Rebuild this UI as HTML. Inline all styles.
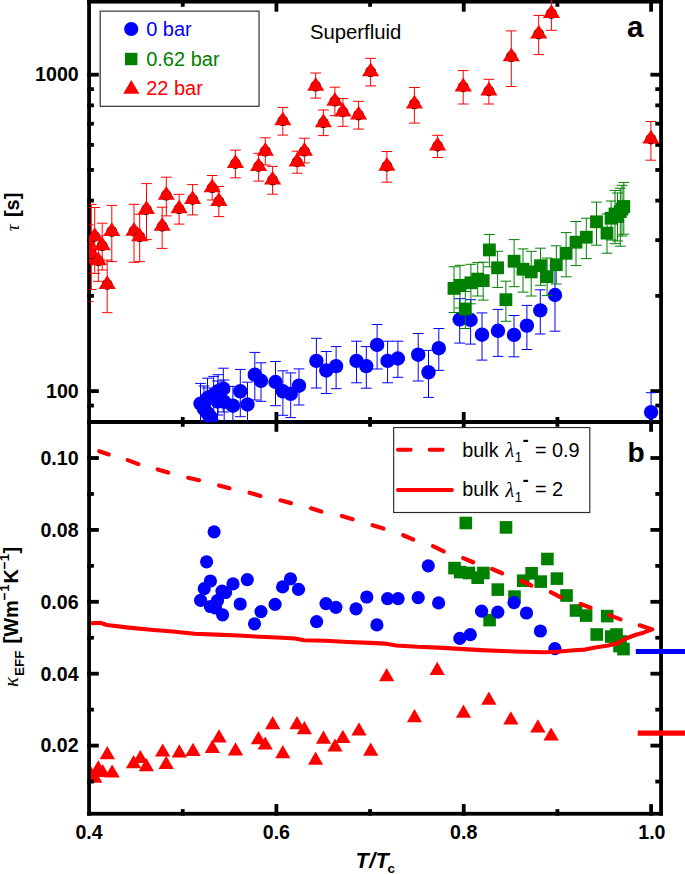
<!DOCTYPE html><html><head><meta charset="utf-8"><title>Figure</title><style>html,body{margin:0;padding:0;background:#fff}svg{display:block}</style></head><body><svg width="685" height="874" viewBox="0 0 685 874" style="display:block">
<rect width="685" height="874" fill="#fff"/>
<defs><clipPath id="ca"><rect x="89.05" y="0" width="572" height="422.3"/></clipPath><clipPath id="cb"><rect x="89.05" y="422" width="572" height="391.7"/></clipPath></defs>
<g clip-path="url(#cb)"><rect x="448.2" y="561.8" width="12.6" height="12.6" fill="#008000"/><rect x="453.8" y="565.8" width="12.6" height="12.6" fill="#008000"/><rect x="459.5" y="516.7" width="12.6" height="12.6" fill="#008000"/><rect x="462.6" y="566.7" width="12.6" height="12.6" fill="#008000"/><rect x="471.4" y="571.4" width="12.6" height="12.6" fill="#008000"/><rect x="477.1" y="566.7" width="12.6" height="12.6" fill="#008000"/><rect x="483.3" y="613.8" width="12.6" height="12.6" fill="#008000"/><rect x="491.5" y="583.3" width="12.6" height="12.6" fill="#008000"/><rect x="499.7" y="521.1" width="12.6" height="12.6" fill="#008000"/><rect x="508.2" y="590.3" width="12.6" height="12.6" fill="#008000"/><rect x="516.9" y="574.4" width="12.6" height="12.6" fill="#008000"/><rect x="525.3" y="567.0" width="12.6" height="12.6" fill="#008000"/><rect x="534.4" y="575.3" width="12.6" height="12.6" fill="#008000"/><rect x="541.1" y="552.7" width="12.6" height="12.6" fill="#008000"/><rect x="550.6" y="572.3" width="12.6" height="12.6" fill="#008000"/><rect x="560.2" y="589.2" width="12.6" height="12.6" fill="#008000"/><rect x="569.7" y="604.2" width="12.6" height="12.6" fill="#008000"/><rect x="579.8" y="609.3" width="12.6" height="12.6" fill="#008000"/><rect x="590.4" y="628.2" width="12.6" height="12.6" fill="#008000"/><rect x="600.9" y="609.8" width="12.6" height="12.6" fill="#008000"/><rect x="605.0" y="630.3" width="12.6" height="12.6" fill="#008000"/><rect x="610.2" y="628.2" width="12.6" height="12.6" fill="#008000"/><rect x="614.3" y="635.2" width="12.6" height="12.6" fill="#008000"/><rect x="613.2" y="639.8" width="12.6" height="12.6" fill="#008000"/><rect x="617.2" y="642.8" width="12.6" height="12.6" fill="#008000"/><circle cx="200.6" cy="600.3" r="6.6" fill="#0000ff"/><circle cx="204.2" cy="588.7" r="6.6" fill="#0000ff"/><circle cx="206.6" cy="561.8" r="6.6" fill="#0000ff"/><circle cx="210.4" cy="581.0" r="6.6" fill="#0000ff"/><circle cx="214.1" cy="531.8" r="6.6" fill="#0000ff"/><circle cx="210.4" cy="606.5" r="6.6" fill="#0000ff"/><circle cx="215.5" cy="608.0" r="6.6" fill="#0000ff"/><circle cx="217.5" cy="600.5" r="6.6" fill="#0000ff"/><circle cx="222.6" cy="614.8" r="6.6" fill="#0000ff"/><circle cx="222.0" cy="591.2" r="6.6" fill="#0000ff"/><circle cx="225.5" cy="592.5" r="6.6" fill="#0000ff"/><circle cx="233.0" cy="583.9" r="6.6" fill="#0000ff"/><circle cx="240.2" cy="604.0" r="6.6" fill="#0000ff"/><circle cx="247.3" cy="579.6" r="6.6" fill="#0000ff"/><circle cx="254.5" cy="623.8" r="6.6" fill="#0000ff"/><circle cx="261.0" cy="611.6" r="6.6" fill="#0000ff"/><circle cx="275.1" cy="604.3" r="6.6" fill="#0000ff"/><circle cx="282.6" cy="586.9" r="6.6" fill="#0000ff"/><circle cx="290.5" cy="578.8" r="6.6" fill="#0000ff"/><circle cx="298.5" cy="589.4" r="6.6" fill="#0000ff"/><circle cx="316.6" cy="621.7" r="6.6" fill="#0000ff"/><circle cx="326.0" cy="603.6" r="6.6" fill="#0000ff"/><circle cx="335.9" cy="607.3" r="6.6" fill="#0000ff"/><circle cx="356.0" cy="608.8" r="6.6" fill="#0000ff"/><circle cx="366.8" cy="597.0" r="6.6" fill="#0000ff"/><circle cx="376.9" cy="624.9" r="6.6" fill="#0000ff"/><circle cx="387.6" cy="598.7" r="6.6" fill="#0000ff"/><circle cx="398.1" cy="598.7" r="6.6" fill="#0000ff"/><circle cx="418.2" cy="597.7" r="6.6" fill="#0000ff"/><circle cx="428.3" cy="565.8" r="6.6" fill="#0000ff"/><circle cx="438.6" cy="602.9" r="6.6" fill="#0000ff"/><circle cx="459.8" cy="638.4" r="6.6" fill="#0000ff"/><circle cx="470.3" cy="634.7" r="6.6" fill="#0000ff"/><circle cx="481.6" cy="611.2" r="6.6" fill="#0000ff"/><circle cx="497.8" cy="612.2" r="6.6" fill="#0000ff"/><circle cx="514.0" cy="602.7" r="6.6" fill="#0000ff"/><circle cx="526.5" cy="613.0" r="6.6" fill="#0000ff"/><circle cx="540.4" cy="631.0" r="6.6" fill="#0000ff"/><circle cx="554.9" cy="648.6" r="6.6" fill="#0000ff"/><path d="M91.0 766.2L98.7 779.4H83.3Z" fill="#ff0000"/><path d="M94.7 769.5L102.4 782.7H87.0Z" fill="#ff0000"/><path d="M98.3 760.3L106.0 773.5H90.6Z" fill="#ff0000"/><path d="M102.6 763.9L110.2 777.1H94.9Z" fill="#ff0000"/><path d="M107.3 746.0L115.0 759.2H99.6Z" fill="#ff0000"/><path d="M112.1 764.4L119.8 777.6H104.4Z" fill="#ff0000"/><path d="M133.6 755.0L141.2 768.2H125.9Z" fill="#ff0000"/><path d="M140.3 749.9L148.0 763.1H132.7Z" fill="#ff0000"/><path d="M146.3 758.0L154.0 771.2H138.7Z" fill="#ff0000"/><path d="M162.7 743.4L170.3 756.6H155.0Z" fill="#ff0000"/><path d="M166.2 755.8L173.8 769.0H158.5Z" fill="#ff0000"/><path d="M179.3 744.2L187.0 757.4H171.7Z" fill="#ff0000"/><path d="M193.0 742.7L200.7 755.9H185.3Z" fill="#ff0000"/><path d="M212.3 739.7L220.0 752.9H204.7Z" fill="#ff0000"/><path d="M219.0 729.3L226.7 742.5H211.3Z" fill="#ff0000"/><path d="M235.5 742.2L243.2 755.4H227.8Z" fill="#ff0000"/><path d="M258.5 731.0L266.1 744.2H250.8Z" fill="#ff0000"/><path d="M265.2 736.4L272.8 749.6H257.6Z" fill="#ff0000"/><path d="M272.7 716.1L280.3 729.3H265.1Z" fill="#ff0000"/><path d="M282.8 745.1L290.4 758.3H275.2Z" fill="#ff0000"/><path d="M297.0 716.1L304.6 729.3H289.4Z" fill="#ff0000"/><path d="M304.4 721.0L312.0 734.2H296.8Z" fill="#ff0000"/><path d="M315.6 751.6L323.2 764.8H308.0Z" fill="#ff0000"/><path d="M323.5 730.5L331.1 743.7H315.9Z" fill="#ff0000"/><path d="M335.0 738.4L342.6 751.6H327.4Z" fill="#ff0000"/><path d="M342.9 729.7L350.5 742.9H335.2Z" fill="#ff0000"/><path d="M359.0 722.3L366.6 735.5H351.4Z" fill="#ff0000"/><path d="M370.7 742.6L378.3 755.8H363.1Z" fill="#ff0000"/><path d="M386.7 668.1L394.3 681.3H379.1Z" fill="#ff0000"/><path d="M414.5 709.0L422.1 722.2H406.9Z" fill="#ff0000"/><path d="M437.2 661.7L444.8 674.9H429.6Z" fill="#ff0000"/><path d="M463.5 704.6L471.1 717.8H455.9Z" fill="#ff0000"/><path d="M488.9 691.5L496.5 704.7H481.2Z" fill="#ff0000"/><path d="M510.8 711.3L518.5 724.5H503.2Z" fill="#ff0000"/><path d="M537.9 719.2L545.5 732.4H530.2Z" fill="#ff0000"/><path d="M551.1 727.4L558.8 740.6H543.5Z" fill="#ff0000"/><line x1="99.3" y1="451.2" x2="108.8" y2="454.4" stroke="#ff0000" stroke-width="4.2" stroke-linecap="round"/><line x1="127.7" y1="460.1" x2="138.4" y2="464.1" stroke="#ff0000" stroke-width="4.2" stroke-linecap="round"/><line x1="157.7" y1="469.4" x2="168.1" y2="472.6" stroke="#ff0000" stroke-width="4.2" stroke-linecap="round"/><line x1="188.2" y1="477.8" x2="199.0" y2="480.2" stroke="#ff0000" stroke-width="4.2" stroke-linecap="round"/><line x1="219.1" y1="485.5" x2="229.5" y2="488.3" stroke="#ff0000" stroke-width="4.2" stroke-linecap="round"/><line x1="249.6" y1="492.7" x2="260.4" y2="495.9" stroke="#ff0000" stroke-width="4.2" stroke-linecap="round"/><line x1="280.5" y1="500.3" x2="290.9" y2="503.1" stroke="#ff0000" stroke-width="4.2" stroke-linecap="round"/><line x1="311.0" y1="508.3" x2="321.3" y2="511.6" stroke="#ff0000" stroke-width="4.2" stroke-linecap="round"/><line x1="341.9" y1="515.9" x2="352.7" y2="519.2" stroke="#ff0000" stroke-width="4.2" stroke-linecap="round"/><line x1="372.6" y1="525.2" x2="383.4" y2="528.6" stroke="#ff0000" stroke-width="4.2" stroke-linecap="round"/><line x1="403.2" y1="535.3" x2="413.2" y2="539.5" stroke="#ff0000" stroke-width="4.2" stroke-linecap="round"/><line x1="433.0" y1="546.2" x2="443.8" y2="551.4" stroke="#ff0000" stroke-width="4.2" stroke-linecap="round"/><line x1="463.2" y1="558.1" x2="473.2" y2="562.3" stroke="#ff0000" stroke-width="4.2" stroke-linecap="round"/><line x1="492.1" y1="569.0" x2="502.1" y2="573.3" stroke="#ff0000" stroke-width="4.2" stroke-linecap="round"/><line x1="521.5" y1="580.8" x2="531.4" y2="585.5" stroke="#ff0000" stroke-width="4.2" stroke-linecap="round"/><line x1="550.8" y1="592.2" x2="560.8" y2="597.4" stroke="#ff0000" stroke-width="4.2" stroke-linecap="round"/><line x1="580.6" y1="604.1" x2="590.6" y2="607.7" stroke="#ff0000" stroke-width="4.2" stroke-linecap="round"/><line x1="609.4" y1="615.1" x2="620.5" y2="619.4" stroke="#ff0000" stroke-width="4.2" stroke-linecap="round"/><line x1="639.7" y1="625.3" x2="650.6" y2="628.9" stroke="#ff0000" stroke-width="4.2" stroke-linecap="round"/><polyline points="91.6,623.2 100.3,622.8 106.9,625.0 128.8,627.6 150.7,629.8 172.6,631.5 194.5,633.7 216.4,634.6 238.3,635.5 260.2,636.8 282.1,637.7 295.2,638.5 304.0,640.3 325.9,640.7 347.8,642.0 369.7,642.9 385.0,643.6 396.2,645.5 417.3,646.8 438.5,647.6 459.7,648.9 480.8,650.1 502.0,651.0 523.2,651.8 544.3,652.3 557.0,651.8 574.0,650.3 585.0,649.6 596.7,647.3 608.4,645.5 617.7,643.2 625.9,638.5 635.2,635.0 643.4,632.7 648.1,630.9 652.2,629.4" fill="none" stroke="#ff0000" stroke-width="4.1" stroke-linecap="round" stroke-linejoin="round"/></g>
<g id="axes-b"><rect x="87.15" y="420.05" width="3.80" height="395.60" fill="#000"/><rect x="659.15" y="420.05" width="3.80" height="395.60" fill="#000"/><rect x="87.15" y="420.05" width="575.80" height="3.80" fill="#000"/><rect x="87.15" y="811.85" width="575.80" height="3.80" fill="#000"/><line x1="182.72" y1="420.05" x2="182.72" y2="426.80" stroke="#000" stroke-width="3.8" stroke-linecap="butt"/><line x1="182.72" y1="809.10" x2="182.72" y2="815.65" stroke="#000" stroke-width="3.8" stroke-linecap="butt"/><line x1="276.39" y1="420.05" x2="276.39" y2="431.80" stroke="#000" stroke-width="3.8" stroke-linecap="butt"/><line x1="276.39" y1="804.10" x2="276.39" y2="815.65" stroke="#000" stroke-width="3.8" stroke-linecap="butt"/><line x1="370.06" y1="420.05" x2="370.06" y2="426.80" stroke="#000" stroke-width="3.8" stroke-linecap="butt"/><line x1="370.06" y1="809.10" x2="370.06" y2="815.65" stroke="#000" stroke-width="3.8" stroke-linecap="butt"/><line x1="463.73" y1="420.05" x2="463.73" y2="431.80" stroke="#000" stroke-width="3.8" stroke-linecap="butt"/><line x1="463.73" y1="804.10" x2="463.73" y2="815.65" stroke="#000" stroke-width="3.8" stroke-linecap="butt"/><line x1="557.40" y1="420.05" x2="557.40" y2="426.80" stroke="#000" stroke-width="3.8" stroke-linecap="butt"/><line x1="557.40" y1="809.10" x2="557.40" y2="815.65" stroke="#000" stroke-width="3.8" stroke-linecap="butt"/><line x1="651.07" y1="420.05" x2="651.07" y2="431.80" stroke="#000" stroke-width="3.8" stroke-linecap="butt"/><line x1="651.07" y1="804.10" x2="651.07" y2="815.65" stroke="#000" stroke-width="3.8" stroke-linecap="butt"/><line x1="87.15" y1="781.55" x2="93.90" y2="781.55" stroke="#000" stroke-width="3.8" stroke-linecap="butt"/><line x1="655.30" y1="781.55" x2="662.95" y2="781.55" stroke="#000" stroke-width="3.8" stroke-linecap="butt"/><line x1="87.15" y1="745.60" x2="98.80" y2="745.60" stroke="#000" stroke-width="3.8" stroke-linecap="butt"/><line x1="650.40" y1="745.60" x2="662.95" y2="745.60" stroke="#000" stroke-width="3.8" stroke-linecap="butt"/><line x1="87.15" y1="709.65" x2="93.90" y2="709.65" stroke="#000" stroke-width="3.8" stroke-linecap="butt"/><line x1="655.30" y1="709.65" x2="662.95" y2="709.65" stroke="#000" stroke-width="3.8" stroke-linecap="butt"/><line x1="87.15" y1="673.70" x2="98.80" y2="673.70" stroke="#000" stroke-width="3.8" stroke-linecap="butt"/><line x1="650.40" y1="673.70" x2="662.95" y2="673.70" stroke="#000" stroke-width="3.8" stroke-linecap="butt"/><line x1="87.15" y1="637.75" x2="93.90" y2="637.75" stroke="#000" stroke-width="3.8" stroke-linecap="butt"/><line x1="655.30" y1="637.75" x2="662.95" y2="637.75" stroke="#000" stroke-width="3.8" stroke-linecap="butt"/><line x1="87.15" y1="601.80" x2="98.80" y2="601.80" stroke="#000" stroke-width="3.8" stroke-linecap="butt"/><line x1="650.40" y1="601.80" x2="662.95" y2="601.80" stroke="#000" stroke-width="3.8" stroke-linecap="butt"/><line x1="87.15" y1="565.85" x2="93.90" y2="565.85" stroke="#000" stroke-width="3.8" stroke-linecap="butt"/><line x1="655.30" y1="565.85" x2="662.95" y2="565.85" stroke="#000" stroke-width="3.8" stroke-linecap="butt"/><line x1="87.15" y1="529.90" x2="98.80" y2="529.90" stroke="#000" stroke-width="3.8" stroke-linecap="butt"/><line x1="650.40" y1="529.90" x2="662.95" y2="529.90" stroke="#000" stroke-width="3.8" stroke-linecap="butt"/><line x1="87.15" y1="493.95" x2="93.90" y2="493.95" stroke="#000" stroke-width="3.8" stroke-linecap="butt"/><line x1="655.30" y1="493.95" x2="662.95" y2="493.95" stroke="#000" stroke-width="3.8" stroke-linecap="butt"/><line x1="87.15" y1="458.00" x2="98.80" y2="458.00" stroke="#000" stroke-width="3.8" stroke-linecap="butt"/><line x1="650.40" y1="458.00" x2="662.95" y2="458.00" stroke="#000" stroke-width="3.8" stroke-linecap="butt"/></g>
<line x1="635.80" y1="651.50" x2="685.00" y2="651.50" stroke="#0000ff" stroke-width="5" stroke-linecap="butt"/>
<line x1="637.70" y1="733.20" x2="685.00" y2="733.20" stroke="#ff0000" stroke-width="5.2" stroke-linecap="butt"/>
<g id="axes-a"><rect x="87.15" y="0.00" width="3.80" height="423.85" fill="#000"/><rect x="659.15" y="0.00" width="3.80" height="423.85" fill="#000"/><rect x="87.15" y="0.00" width="575.80" height="3.55" fill="#000"/><rect x="87.15" y="420.05" width="575.80" height="3.80" fill="#000"/><line x1="182.72" y1="0.00" x2="182.72" y2="6.80" stroke="#000" stroke-width="3.8" stroke-linecap="butt"/><line x1="182.72" y1="417.00" x2="182.72" y2="423.85" stroke="#000" stroke-width="3.8" stroke-linecap="butt"/><line x1="276.39" y1="0.00" x2="276.39" y2="11.70" stroke="#000" stroke-width="3.8" stroke-linecap="butt"/><line x1="276.39" y1="412.00" x2="276.39" y2="423.85" stroke="#000" stroke-width="3.8" stroke-linecap="butt"/><line x1="370.06" y1="0.00" x2="370.06" y2="6.80" stroke="#000" stroke-width="3.8" stroke-linecap="butt"/><line x1="370.06" y1="417.00" x2="370.06" y2="423.85" stroke="#000" stroke-width="3.8" stroke-linecap="butt"/><line x1="463.73" y1="0.00" x2="463.73" y2="11.70" stroke="#000" stroke-width="3.8" stroke-linecap="butt"/><line x1="463.73" y1="412.00" x2="463.73" y2="423.85" stroke="#000" stroke-width="3.8" stroke-linecap="butt"/><line x1="557.40" y1="0.00" x2="557.40" y2="6.80" stroke="#000" stroke-width="3.8" stroke-linecap="butt"/><line x1="557.40" y1="417.00" x2="557.40" y2="423.85" stroke="#000" stroke-width="3.8" stroke-linecap="butt"/><line x1="651.07" y1="0.00" x2="651.07" y2="11.70" stroke="#000" stroke-width="3.8" stroke-linecap="butt"/><line x1="651.07" y1="412.00" x2="651.07" y2="423.85" stroke="#000" stroke-width="3.8" stroke-linecap="butt"/><line x1="87.15" y1="405.58" x2="93.90" y2="405.58" stroke="#000" stroke-width="3.8" stroke-linecap="butt"/><line x1="655.30" y1="405.58" x2="662.95" y2="405.58" stroke="#000" stroke-width="3.8" stroke-linecap="butt"/><line x1="87.15" y1="391.10" x2="98.80" y2="391.10" stroke="#000" stroke-width="3.8" stroke-linecap="butt"/><line x1="650.40" y1="391.10" x2="662.95" y2="391.10" stroke="#000" stroke-width="3.8" stroke-linecap="butt"/><line x1="87.15" y1="295.85" x2="93.90" y2="295.85" stroke="#000" stroke-width="3.8" stroke-linecap="butt"/><line x1="655.30" y1="295.85" x2="662.95" y2="295.85" stroke="#000" stroke-width="3.8" stroke-linecap="butt"/><line x1="87.15" y1="240.14" x2="93.90" y2="240.14" stroke="#000" stroke-width="3.8" stroke-linecap="butt"/><line x1="655.30" y1="240.14" x2="662.95" y2="240.14" stroke="#000" stroke-width="3.8" stroke-linecap="butt"/><line x1="87.15" y1="200.61" x2="93.90" y2="200.61" stroke="#000" stroke-width="3.8" stroke-linecap="butt"/><line x1="655.30" y1="200.61" x2="662.95" y2="200.61" stroke="#000" stroke-width="3.8" stroke-linecap="butt"/><line x1="87.15" y1="169.95" x2="93.90" y2="169.95" stroke="#000" stroke-width="3.8" stroke-linecap="butt"/><line x1="655.30" y1="169.95" x2="662.95" y2="169.95" stroke="#000" stroke-width="3.8" stroke-linecap="butt"/><line x1="87.15" y1="144.89" x2="93.90" y2="144.89" stroke="#000" stroke-width="3.8" stroke-linecap="butt"/><line x1="655.30" y1="144.89" x2="662.95" y2="144.89" stroke="#000" stroke-width="3.8" stroke-linecap="butt"/><line x1="87.15" y1="123.71" x2="93.90" y2="123.71" stroke="#000" stroke-width="3.8" stroke-linecap="butt"/><line x1="655.30" y1="123.71" x2="662.95" y2="123.71" stroke="#000" stroke-width="3.8" stroke-linecap="butt"/><line x1="87.15" y1="105.36" x2="93.90" y2="105.36" stroke="#000" stroke-width="3.8" stroke-linecap="butt"/><line x1="655.30" y1="105.36" x2="662.95" y2="105.36" stroke="#000" stroke-width="3.8" stroke-linecap="butt"/><line x1="87.15" y1="89.18" x2="93.90" y2="89.18" stroke="#000" stroke-width="3.8" stroke-linecap="butt"/><line x1="655.30" y1="89.18" x2="662.95" y2="89.18" stroke="#000" stroke-width="3.8" stroke-linecap="butt"/><line x1="87.15" y1="74.70" x2="98.80" y2="74.70" stroke="#000" stroke-width="3.8" stroke-linecap="butt"/><line x1="650.40" y1="74.70" x2="662.95" y2="74.70" stroke="#000" stroke-width="3.8" stroke-linecap="butt"/></g>
<g clip-path="url(#ca)"><path d="M200.5 383.4V430.0M195.2 383.4H205.8M195.2 430.0H205.8" stroke="#0000ff" stroke-width="1.0" fill="none"/><path d="M204.0 386.0V430.0M198.7 386.0H209.3M198.7 430.0H209.3" stroke="#0000ff" stroke-width="1.0" fill="none"/><path d="M207.5 388.0V430.0M202.2 388.0H212.8M202.2 430.0H212.8" stroke="#0000ff" stroke-width="1.0" fill="none"/><path d="M210.4 391.0V430.0M205.1 391.0H215.8M205.1 430.0H215.8" stroke="#0000ff" stroke-width="1.0" fill="none"/><path d="M217.6 381.0V424.0M212.2 381.0H222.9M212.2 424.0H222.9" stroke="#0000ff" stroke-width="1.0" fill="none"/><path d="M207.5 378.2V425.0M202.2 378.2H212.8M202.2 425.0H212.8" stroke="#0000ff" stroke-width="1.0" fill="none"/><path d="M213.7 376.4V420.0M208.3 376.4H219.0M208.3 420.0H219.0" stroke="#0000ff" stroke-width="1.0" fill="none"/><path d="M218.0 374.7V415.0M212.7 374.7H223.3M212.7 415.0H223.3" stroke="#0000ff" stroke-width="1.0" fill="none"/><path d="M223.3 368.2V412.0M218.0 368.2H228.7M218.0 412.0H228.7" stroke="#0000ff" stroke-width="1.0" fill="none"/><path d="M224.2 380.0V425.0M218.8 380.0H229.5M218.8 425.0H229.5" stroke="#0000ff" stroke-width="1.0" fill="none"/><path d="M232.9 386.4V428.0M227.6 386.4H238.2M227.6 428.0H238.2" stroke="#0000ff" stroke-width="1.0" fill="none"/><path d="M240.3 369.4V416.7M235.0 369.4H245.7M235.0 416.7H245.7" stroke="#0000ff" stroke-width="1.0" fill="none"/><path d="M247.5 382.2V430.0M242.2 382.2H252.8M242.2 430.0H252.8" stroke="#0000ff" stroke-width="1.0" fill="none"/><path d="M254.8 352.4V400.0M249.5 352.4H260.2M249.5 400.0H260.2" stroke="#0000ff" stroke-width="1.0" fill="none"/><path d="M261.0 362.8V401.3M255.7 362.8H266.4M255.7 401.3H266.4" stroke="#0000ff" stroke-width="1.0" fill="none"/><path d="M275.5 361.5V405.7M270.1 361.5H280.9M270.1 405.7H280.9" stroke="#0000ff" stroke-width="1.0" fill="none"/><path d="M282.9 370.8V415.3M277.5 370.8H288.2M277.5 415.3H288.2" stroke="#0000ff" stroke-width="1.0" fill="none"/><path d="M290.7 372.9V417.6M285.3 372.9H296.1M285.3 417.6H296.1" stroke="#0000ff" stroke-width="1.0" fill="none"/><path d="M299.0 368.9V405.0M293.6 368.9H304.4M293.6 405.0H304.4" stroke="#0000ff" stroke-width="1.0" fill="none"/><path d="M316.4 338.3V388.0M311.0 338.3H321.8M311.0 388.0H321.8" stroke="#0000ff" stroke-width="1.0" fill="none"/><path d="M326.3 351.5V393.5M320.9 351.5H331.7M320.9 393.5H331.7" stroke="#0000ff" stroke-width="1.0" fill="none"/><path d="M336.1 346.6V388.7M330.8 346.6H341.5M330.8 388.7H341.5" stroke="#0000ff" stroke-width="1.0" fill="none"/><path d="M356.5 341.2V382.8M351.1 341.2H361.9M351.1 382.8H361.9" stroke="#0000ff" stroke-width="1.0" fill="none"/><path d="M366.3 346.6V388.2M360.9 346.6H371.7M360.9 388.2H371.7" stroke="#0000ff" stroke-width="1.0" fill="none"/><path d="M377.1 324.5V369.0M371.8 324.5H382.5M371.8 369.0H382.5" stroke="#0000ff" stroke-width="1.0" fill="none"/><path d="M387.6 341.2V382.8M382.2 341.2H393.0M382.2 382.8H393.0" stroke="#0000ff" stroke-width="1.0" fill="none"/><path d="M397.9 341.2V377.3M392.5 341.2H403.2M392.5 377.3H403.2" stroke="#0000ff" stroke-width="1.0" fill="none"/><path d="M418.2 333.5V381.0M412.8 333.5H423.6M412.8 381.0H423.6" stroke="#0000ff" stroke-width="1.0" fill="none"/><path d="M428.5 350.4V397.4M423.1 350.4H433.9M423.1 397.4H433.9" stroke="#0000ff" stroke-width="1.0" fill="none"/><path d="M438.8 328.5V370.4M433.4 328.5H444.2M433.4 370.4H444.2" stroke="#0000ff" stroke-width="1.0" fill="none"/><path d="M459.7 298.7V343.1M454.3 298.7H465.1M454.3 343.1H465.1" stroke="#0000ff" stroke-width="1.0" fill="none"/><path d="M470.6 299.7V344.1M465.2 299.7H476.0M465.2 344.1H476.0" stroke="#0000ff" stroke-width="1.0" fill="none"/><path d="M482.0 312.9V360.1M476.6 312.9H487.4M476.6 360.1H487.4" stroke="#0000ff" stroke-width="1.0" fill="none"/><path d="M498.0 309.4V356.4M492.6 309.4H503.4M492.6 356.4H503.4" stroke="#0000ff" stroke-width="1.0" fill="none"/><path d="M514.0 315.5V356.8M508.6 315.5H519.4M508.6 356.8H519.4" stroke="#0000ff" stroke-width="1.0" fill="none"/><path d="M526.9 305.4V349.5M521.5 305.4H532.2M521.5 349.5H532.2" stroke="#0000ff" stroke-width="1.0" fill="none"/><path d="M540.3 289.8V334.0M534.9 289.8H545.6M534.9 334.0H545.6" stroke="#0000ff" stroke-width="1.0" fill="none"/><path d="M555.0 265.7V331.2M549.6 265.7H560.4M549.6 331.2H560.4" stroke="#0000ff" stroke-width="1.0" fill="none"/><path d="M651.1 392.7V430.0M645.8 392.7H656.5M645.8 430.0H656.5" stroke="#0000ff" stroke-width="1.0" fill="none"/><circle cx="200.5" cy="403.6" r="7.2" fill="#0000ff"/><circle cx="204.0" cy="408.8" r="7.2" fill="#0000ff"/><circle cx="207.5" cy="413.2" r="7.2" fill="#0000ff"/><circle cx="210.4" cy="416.8" r="7.2" fill="#0000ff"/><circle cx="217.6" cy="401.5" r="7.2" fill="#0000ff"/><circle cx="207.5" cy="398.3" r="7.2" fill="#0000ff"/><circle cx="213.7" cy="394.8" r="7.2" fill="#0000ff"/><circle cx="218.0" cy="391.3" r="7.2" fill="#0000ff"/><circle cx="223.3" cy="388.7" r="7.2" fill="#0000ff"/><circle cx="224.2" cy="401.8" r="7.2" fill="#0000ff"/><circle cx="232.9" cy="405.7" r="7.2" fill="#0000ff"/><circle cx="240.3" cy="391.3" r="7.2" fill="#0000ff"/><circle cx="247.5" cy="404.5" r="7.2" fill="#0000ff"/><circle cx="254.8" cy="374.7" r="7.2" fill="#0000ff"/><circle cx="261.0" cy="380.8" r="7.2" fill="#0000ff"/><circle cx="275.5" cy="382.0" r="7.2" fill="#0000ff"/><circle cx="282.9" cy="391.3" r="7.2" fill="#0000ff"/><circle cx="290.7" cy="393.9" r="7.2" fill="#0000ff"/><circle cx="299.0" cy="385.7" r="7.2" fill="#0000ff"/><circle cx="316.4" cy="360.9" r="7.2" fill="#0000ff"/><circle cx="326.3" cy="370.5" r="7.2" fill="#0000ff"/><circle cx="336.1" cy="366.1" r="7.2" fill="#0000ff"/><circle cx="356.5" cy="360.9" r="7.2" fill="#0000ff"/><circle cx="366.3" cy="366.1" r="7.2" fill="#0000ff"/><circle cx="377.1" cy="344.9" r="7.2" fill="#0000ff"/><circle cx="387.6" cy="360.9" r="7.2" fill="#0000ff"/><circle cx="397.9" cy="358.5" r="7.2" fill="#0000ff"/><circle cx="418.2" cy="354.7" r="7.2" fill="#0000ff"/><circle cx="428.5" cy="372.3" r="7.2" fill="#0000ff"/><circle cx="438.8" cy="348.2" r="7.2" fill="#0000ff"/><circle cx="459.7" cy="319.5" r="7.2" fill="#0000ff"/><circle cx="470.6" cy="320.0" r="7.2" fill="#0000ff"/><circle cx="482.0" cy="334.7" r="7.2" fill="#0000ff"/><circle cx="498.0" cy="330.8" r="7.2" fill="#0000ff"/><circle cx="514.0" cy="334.9" r="7.2" fill="#0000ff"/><circle cx="526.9" cy="325.6" r="7.2" fill="#0000ff"/><circle cx="540.3" cy="310.4" r="7.2" fill="#0000ff"/><circle cx="555.0" cy="295.0" r="7.2" fill="#0000ff"/><circle cx="651.1" cy="412.2" r="7.2" fill="#0000ff"/><path d="M454.0 266.8V312.5M448.6 266.8H459.4M448.6 312.5H459.4" stroke="#008000" stroke-width="1.0" fill="none"/><path d="M460.0 265.3V308.0M454.6 265.3H465.4M454.6 308.0H465.4" stroke="#008000" stroke-width="1.0" fill="none"/><path d="M465.3 291.5V328.5M459.9 291.5H470.7M459.9 328.5H470.7" stroke="#008000" stroke-width="1.0" fill="none"/><path d="M470.9 264.3V303.8M465.5 264.3H476.2M465.5 303.8H476.2" stroke="#008000" stroke-width="1.0" fill="none"/><path d="M477.7 262.6V296.0M472.3 262.6H483.1M472.3 296.0H483.1" stroke="#008000" stroke-width="1.0" fill="none"/><path d="M483.2 262.2V300.1M477.8 262.2H488.6M477.8 300.1H488.6" stroke="#008000" stroke-width="1.0" fill="none"/><path d="M489.4 234.4V266.8M484.0 234.4H494.8M484.0 266.8H494.8" stroke="#008000" stroke-width="1.0" fill="none"/><path d="M497.6 251.3V287.4M492.2 251.3H503.0M492.2 287.4H503.0" stroke="#008000" stroke-width="1.0" fill="none"/><path d="M505.9 281.2V321.3M500.5 281.2H511.2M500.5 321.3H511.2" stroke="#008000" stroke-width="1.0" fill="none"/><path d="M514.1 239.6V286.7M508.8 239.6H519.5M508.8 286.7H519.5" stroke="#008000" stroke-width="1.0" fill="none"/><path d="M523.0 248.9V292.1M517.6 248.9H528.4M517.6 292.1H528.4" stroke="#008000" stroke-width="1.0" fill="none"/><path d="M531.2 251.3V296.0M525.9 251.3H536.6M525.9 296.0H536.6" stroke="#008000" stroke-width="1.0" fill="none"/><path d="M540.5 248.2V285.3M535.1 248.2H545.9M535.1 285.3H545.9" stroke="#008000" stroke-width="1.0" fill="none"/><path d="M547.1 258.0V295.6M541.8 258.0H552.5M541.8 295.6H552.5" stroke="#008000" stroke-width="1.0" fill="none"/><path d="M556.3 245.8V284.0M550.9 245.8H561.6M550.9 284.0H561.6" stroke="#008000" stroke-width="1.0" fill="none"/><path d="M566.1 232.6V276.8M560.8 232.6H571.5M560.8 276.8H571.5" stroke="#008000" stroke-width="1.0" fill="none"/><path d="M576.0 221.5V265.6M570.6 221.5H581.4M570.6 265.6H581.4" stroke="#008000" stroke-width="1.0" fill="none"/><path d="M586.3 218.2V258.6M580.9 218.2H591.6M580.9 258.6H591.6" stroke="#008000" stroke-width="1.0" fill="none"/><path d="M596.5 202.1V245.2M591.1 202.1H601.9M591.1 245.2H601.9" stroke="#008000" stroke-width="1.0" fill="none"/><path d="M607.0 214.0V253.2M601.6 214.0H612.4M601.6 253.2H612.4" stroke="#008000" stroke-width="1.0" fill="none"/><path d="M611.1 201.0V240.0M605.8 201.0H616.5M605.8 240.0H616.5" stroke="#008000" stroke-width="1.0" fill="none"/><path d="M615.0 190.4V243.7M609.6 190.4H620.4M609.6 243.7H620.4" stroke="#008000" stroke-width="1.0" fill="none"/><path d="M617.5 193.0V241.0M612.1 193.0H622.9M612.1 241.0H622.9" stroke="#008000" stroke-width="1.0" fill="none"/><path d="M620.3 188.2V246.2M614.9 188.2H625.6M614.9 246.2H625.6" stroke="#008000" stroke-width="1.0" fill="none"/><path d="M622.0 185.3V236.0M616.6 185.3H627.4M616.6 236.0H627.4" stroke="#008000" stroke-width="1.0" fill="none"/><path d="M623.8 182.4V234.2M618.4 182.4H629.1M618.4 234.2H629.1" stroke="#008000" stroke-width="1.0" fill="none"/><rect x="447.6" y="282.0" width="12.8" height="12.8" fill="#008000"/><rect x="453.6" y="278.9" width="12.8" height="12.8" fill="#008000"/><rect x="458.9" y="302.6" width="12.8" height="12.8" fill="#008000"/><rect x="464.5" y="276.4" width="12.8" height="12.8" fill="#008000"/><rect x="471.3" y="272.7" width="12.8" height="12.8" fill="#008000"/><rect x="476.8" y="274.2" width="12.8" height="12.8" fill="#008000"/><rect x="483.0" y="243.5" width="12.8" height="12.8" fill="#008000"/><rect x="491.2" y="261.4" width="12.8" height="12.8" fill="#008000"/><rect x="499.5" y="293.3" width="12.8" height="12.8" fill="#008000"/><rect x="507.7" y="254.8" width="12.8" height="12.8" fill="#008000"/><rect x="516.6" y="262.8" width="12.8" height="12.8" fill="#008000"/><rect x="524.8" y="265.5" width="12.8" height="12.8" fill="#008000"/><rect x="534.1" y="259.3" width="12.8" height="12.8" fill="#008000"/><rect x="540.7" y="270.3" width="12.8" height="12.8" fill="#008000"/><rect x="549.9" y="258.3" width="12.8" height="12.8" fill="#008000"/><rect x="559.7" y="246.9" width="12.8" height="12.8" fill="#008000"/><rect x="569.6" y="235.8" width="12.8" height="12.8" fill="#008000"/><rect x="579.9" y="230.8" width="12.8" height="12.8" fill="#008000"/><rect x="590.1" y="215.4" width="12.8" height="12.8" fill="#008000"/><rect x="600.6" y="226.7" width="12.8" height="12.8" fill="#008000"/><rect x="604.7" y="211.8" width="12.8" height="12.8" fill="#008000"/><rect x="608.6" y="207.6" width="12.8" height="12.8" fill="#008000"/><rect x="611.1" y="210.1" width="12.8" height="12.8" fill="#008000"/><rect x="613.9" y="205.2" width="12.8" height="12.8" fill="#008000"/><rect x="615.6" y="202.6" width="12.8" height="12.8" fill="#008000"/><rect x="617.4" y="200.1" width="12.8" height="12.8" fill="#008000"/><path d="M88.3 224.8V301.6M83.0 224.8H93.6M83.0 301.6H93.6" stroke="#ff0000" stroke-width="1.0" fill="none"/><path d="M88.4 207.5V273.4M83.1 207.5H93.8M83.1 273.4H93.8" stroke="#ff0000" stroke-width="1.0" fill="none"/><path d="M91.3 204.3V289.5M86.0 204.3H96.6M86.0 289.5H96.6" stroke="#ff0000" stroke-width="1.0" fill="none"/><path d="M94.7 207.5V273.4M89.4 207.5H100.0M89.4 273.4H100.0" stroke="#ff0000" stroke-width="1.0" fill="none"/><path d="M98.3 236.0V281.3M93.0 236.0H103.6M93.0 281.3H103.6" stroke="#ff0000" stroke-width="1.0" fill="none"/><path d="M102.2 223.2V270.0M96.9 223.2H107.5M96.9 270.0H107.5" stroke="#ff0000" stroke-width="1.0" fill="none"/><path d="M107.2 260.1V312.7M101.9 260.1H112.5M101.9 312.7H112.5" stroke="#ff0000" stroke-width="1.0" fill="none"/><path d="M111.8 205.4V261.6M106.5 205.4H117.1M106.5 261.6H117.1" stroke="#ff0000" stroke-width="1.0" fill="none"/><path d="M134.0 204.3V262.3M128.7 204.3H139.3M128.7 262.3H139.3" stroke="#ff0000" stroke-width="1.0" fill="none"/><path d="M139.7 214.3V261.6M134.3 214.3H145.0M134.3 261.6H145.0" stroke="#ff0000" stroke-width="1.0" fill="none"/><path d="M146.5 183.6V239.6M141.2 183.6H151.8M141.2 239.6H151.8" stroke="#ff0000" stroke-width="1.0" fill="none"/><path d="M162.2 207.2V248.4M156.8 207.2H167.5M156.8 248.4H167.5" stroke="#ff0000" stroke-width="1.0" fill="none"/><path d="M166.3 177.2V215.9M161.0 177.2H171.7M161.0 215.9H171.7" stroke="#ff0000" stroke-width="1.0" fill="none"/><path d="M179.1 194.3V224.1M173.8 194.3H184.4M173.8 224.1H184.4" stroke="#ff0000" stroke-width="1.0" fill="none"/><path d="M192.6 184.6V214.9M187.2 184.6H197.9M187.2 214.9H197.9" stroke="#ff0000" stroke-width="1.0" fill="none"/><path d="M212.2 175.5V200.0M206.8 175.5H217.5M206.8 200.0H217.5" stroke="#ff0000" stroke-width="1.0" fill="none"/><path d="M218.9 186.5V216.6M213.6 186.5H224.2M213.6 216.6H224.2" stroke="#ff0000" stroke-width="1.0" fill="none"/><path d="M235.4 150.2V177.8M230.1 150.2H240.8M230.1 177.8H240.8" stroke="#ff0000" stroke-width="1.0" fill="none"/><path d="M258.6 153.3V181.1M253.3 153.3H264.0M253.3 181.1H264.0" stroke="#ff0000" stroke-width="1.0" fill="none"/><path d="M265.3 137.8V165.0M259.9 137.8H270.7M259.9 165.0H270.7" stroke="#ff0000" stroke-width="1.0" fill="none"/><path d="M272.6 166.4V194.2M267.2 166.4H278.0M267.2 194.2H278.0" stroke="#ff0000" stroke-width="1.0" fill="none"/><path d="M282.8 107.4V135.1M277.4 107.4H288.2M277.4 135.1H288.2" stroke="#ff0000" stroke-width="1.0" fill="none"/><path d="M297.1 151.2V173.2M291.8 151.2H302.5M291.8 173.2H302.5" stroke="#ff0000" stroke-width="1.0" fill="none"/><path d="M304.4 138.2V162.9M299.0 138.2H309.8M299.0 162.9H309.8" stroke="#ff0000" stroke-width="1.0" fill="none"/><path d="M315.7 73.0V98.1M310.3 73.0H321.1M310.3 98.1H321.1" stroke="#ff0000" stroke-width="1.0" fill="none"/><path d="M323.4 110.0V135.6M318.0 110.0H328.8M318.0 135.6H328.8" stroke="#ff0000" stroke-width="1.0" fill="none"/><path d="M334.9 87.2V115.6M329.5 87.2H340.2M329.5 115.6H340.2" stroke="#ff0000" stroke-width="1.0" fill="none"/><path d="M342.9 98.5V126.3M337.5 98.5H348.2M337.5 126.3H348.2" stroke="#ff0000" stroke-width="1.0" fill="none"/><path d="M358.6 101.3V129.1M353.2 101.3H364.0M353.2 129.1H364.0" stroke="#ff0000" stroke-width="1.0" fill="none"/><path d="M370.6 58.3V85.9M365.2 58.3H376.0M365.2 85.9H376.0" stroke="#ff0000" stroke-width="1.0" fill="none"/><path d="M386.9 151.5V182.2M381.5 151.5H392.2M381.5 182.2H392.2" stroke="#ff0000" stroke-width="1.0" fill="none"/><path d="M414.4 87.5V123.1M409.0 87.5H419.8M409.0 123.1H419.8" stroke="#ff0000" stroke-width="1.0" fill="none"/><path d="M437.6 135.3V157.5M432.2 135.3H443.0M432.2 157.5H443.0" stroke="#ff0000" stroke-width="1.0" fill="none"/><path d="M463.2 70.6V104.0M457.8 70.6H468.6M457.8 104.0H468.6" stroke="#ff0000" stroke-width="1.0" fill="none"/><path d="M488.9 79.3V104.0M483.5 79.3H494.2M483.5 104.0H494.2" stroke="#ff0000" stroke-width="1.0" fill="none"/><path d="M511.3 30.9V86.5M505.9 30.9H516.6M505.9 86.5H516.6" stroke="#ff0000" stroke-width="1.0" fill="none"/><path d="M538.7 15.4V54.6M533.4 15.4H544.1M533.4 54.6H544.1" stroke="#ff0000" stroke-width="1.0" fill="none"/><path d="M551.4 -10.0V30.3M546.0 -10.0H556.8M546.0 30.3H556.8" stroke="#ff0000" stroke-width="1.0" fill="none"/><path d="M650.9 121.5V160.2M645.5 121.5H656.2M645.5 160.2H656.2" stroke="#ff0000" stroke-width="1.0" fill="none"/><circle cx="88.3" cy="259.2" r="5.4" fill="#1a0000"/><path d="M88.3 250.0L96.9 263.8H79.7Z" fill="#ff0000"/><circle cx="88.4" cy="242.8" r="5.4" fill="#1a0000"/><path d="M88.4 233.6L97.0 247.4H79.8Z" fill="#ff0000"/><circle cx="91.3" cy="253.4" r="5.4" fill="#1a0000"/><path d="M91.3 244.2L99.9 258.0H82.7Z" fill="#ff0000"/><circle cx="94.7" cy="236.4" r="5.4" fill="#1a0000"/><path d="M94.7 227.2L103.3 241.0H86.1Z" fill="#ff0000"/><circle cx="98.3" cy="260.7" r="5.4" fill="#1a0000"/><path d="M98.3 251.5L106.9 265.3H89.7Z" fill="#ff0000"/><circle cx="102.2" cy="245.7" r="5.4" fill="#1a0000"/><path d="M102.2 236.5L110.8 250.3H93.6Z" fill="#ff0000"/><circle cx="107.2" cy="284.4" r="5.4" fill="#1a0000"/><path d="M107.2 275.2L115.8 289.0H98.6Z" fill="#ff0000"/><circle cx="111.8" cy="231.4" r="5.4" fill="#1a0000"/><path d="M111.8 222.2L120.4 236.0H103.2Z" fill="#ff0000"/><circle cx="134.0" cy="231.1" r="5.4" fill="#1a0000"/><path d="M134.0 221.9L142.6 235.7H125.4Z" fill="#ff0000"/><circle cx="139.7" cy="236.6" r="5.4" fill="#1a0000"/><path d="M139.7 227.4L148.3 241.2H131.1Z" fill="#ff0000"/><circle cx="146.5" cy="209.5" r="5.4" fill="#1a0000"/><path d="M146.5 200.3L155.1 214.1H137.9Z" fill="#ff0000"/><circle cx="162.2" cy="226.2" r="5.4" fill="#1a0000"/><path d="M162.2 217.0L170.8 230.8H153.6Z" fill="#ff0000"/><circle cx="166.3" cy="195.2" r="5.4" fill="#1a0000"/><path d="M166.3 186.0L174.9 199.8H157.7Z" fill="#ff0000"/><circle cx="179.1" cy="208.7" r="5.4" fill="#1a0000"/><path d="M179.1 199.5L187.7 213.3H170.5Z" fill="#ff0000"/><circle cx="192.6" cy="199.4" r="5.4" fill="#1a0000"/><path d="M192.6 190.2L201.2 204.0H184.0Z" fill="#ff0000"/><circle cx="212.2" cy="187.7" r="5.4" fill="#1a0000"/><path d="M212.2 178.5L220.8 192.3H203.6Z" fill="#ff0000"/><circle cx="218.9" cy="201.3" r="5.4" fill="#1a0000"/><path d="M218.9 192.1L227.5 205.9H210.3Z" fill="#ff0000"/><circle cx="235.4" cy="163.5" r="5.4" fill="#1a0000"/><path d="M235.4 154.3L244.0 168.1H226.8Z" fill="#ff0000"/><circle cx="258.6" cy="166.4" r="5.4" fill="#1a0000"/><path d="M258.6 157.2L267.2 171.0H250.0Z" fill="#ff0000"/><circle cx="265.3" cy="151.1" r="5.4" fill="#1a0000"/><path d="M265.3 141.9L273.9 155.7H256.7Z" fill="#ff0000"/><circle cx="272.6" cy="180.0" r="5.4" fill="#1a0000"/><path d="M272.6 170.8L281.2 184.6H264.0Z" fill="#ff0000"/><circle cx="282.8" cy="120.7" r="5.4" fill="#1a0000"/><path d="M282.8 111.5L291.4 125.3H274.2Z" fill="#ff0000"/><circle cx="297.1" cy="161.8" r="5.4" fill="#1a0000"/><path d="M297.1 152.6L305.7 166.4H288.5Z" fill="#ff0000"/><circle cx="304.4" cy="151.1" r="5.4" fill="#1a0000"/><path d="M304.4 141.9L313.0 155.7H295.8Z" fill="#ff0000"/><circle cx="315.7" cy="86.1" r="5.4" fill="#1a0000"/><path d="M315.7 76.9L324.3 90.7H307.1Z" fill="#ff0000"/><circle cx="323.4" cy="122.7" r="5.4" fill="#1a0000"/><path d="M323.4 113.5L332.0 127.3H314.8Z" fill="#ff0000"/><circle cx="334.9" cy="101.1" r="5.4" fill="#1a0000"/><path d="M334.9 91.9L343.5 105.7H326.3Z" fill="#ff0000"/><circle cx="342.9" cy="111.8" r="5.4" fill="#1a0000"/><path d="M342.9 102.6L351.5 116.4H334.3Z" fill="#ff0000"/><circle cx="358.6" cy="115.0" r="5.4" fill="#1a0000"/><path d="M358.6 105.8L367.2 119.6H350.0Z" fill="#ff0000"/><circle cx="370.6" cy="71.6" r="5.4" fill="#1a0000"/><path d="M370.6 62.4L379.2 76.2H362.0Z" fill="#ff0000"/><circle cx="386.9" cy="166.1" r="5.4" fill="#1a0000"/><path d="M386.9 156.9L395.5 170.7H378.3Z" fill="#ff0000"/><circle cx="414.4" cy="103.9" r="5.4" fill="#1a0000"/><path d="M414.4 94.7L423.0 108.5H405.8Z" fill="#ff0000"/><circle cx="437.6" cy="146.0" r="5.4" fill="#1a0000"/><path d="M437.6 136.8L446.2 150.6H429.0Z" fill="#ff0000"/><circle cx="463.2" cy="86.8" r="5.4" fill="#1a0000"/><path d="M463.2 77.6L471.8 91.4H454.6Z" fill="#ff0000"/><circle cx="488.9" cy="90.8" r="5.4" fill="#1a0000"/><path d="M488.9 81.6L497.5 95.4H480.3Z" fill="#ff0000"/><circle cx="511.3" cy="56.6" r="5.4" fill="#1a0000"/><path d="M511.3 47.4L519.9 61.2H502.7Z" fill="#ff0000"/><circle cx="538.7" cy="33.9" r="5.4" fill="#1a0000"/><path d="M538.7 24.7L547.3 38.5H530.1Z" fill="#ff0000"/><circle cx="551.4" cy="13.4" r="5.4" fill="#1a0000"/><path d="M551.4 4.2L560.0 18.0H542.8Z" fill="#ff0000"/><circle cx="650.9" cy="139.0" r="5.4" fill="#1a0000"/><path d="M650.9 129.8L659.5 143.6H642.3Z" fill="#ff0000"/></g>
<rect x="100.2" y="11.15" width="158.85" height="95.15" fill="#fff" stroke="#2a2a2a" stroke-width="1.15"/>
<circle cx="131.2" cy="29" r="7.1" fill="#0000ff"/>
<rect x="125" y="52.8" width="12.4" height="12.4" fill="#008000"/>
<path d="M131.3 79.9L139.4 93.8H123.2Z" fill="#ff0000"/>
<text x="146.2" y="36.3" font-family="Liberation Sans, Arial, Helvetica, sans-serif" font-size="20" fill="#0000ff">0 bar</text>
<text x="146.2" y="65.5" font-family="Liberation Sans, Arial, Helvetica, sans-serif" font-size="20" fill="#008000">0.62 bar</text>
<text x="146.2" y="95.2" font-family="Liberation Sans, Arial, Helvetica, sans-serif" font-size="20" fill="#ff0000">22 bar</text>
<text x="309.9" y="38.8" font-family="Liberation Sans, Arial, Helvetica, sans-serif" font-size="20.3" fill="#000">Superfluid</text>
<text x="627" y="37" font-family="Liberation Sans, Arial, Helvetica, sans-serif" font-size="29.5" font-weight="bold" fill="#000">a</text>
<text x="627.5" y="461.7" font-family="Liberation Sans, Arial, Helvetica, sans-serif" font-size="28.2" font-weight="bold" fill="#000">b</text>
<rect x="393.65" y="427.55" width="196.15" height="84.95" fill="#fff" stroke="#2a2a2a" stroke-width="1.15"/>
<line x1="398.00" y1="449.70" x2="410.60" y2="449.70" stroke="#ff0000" stroke-width="4" stroke-linecap="round"/>
<line x1="429.70" y1="449.70" x2="442.60" y2="449.70" stroke="#ff0000" stroke-width="4" stroke-linecap="round"/>
<line x1="398.00" y1="490.10" x2="451.90" y2="490.10" stroke="#ff0000" stroke-width="4" stroke-linecap="round"/>
<text x="462.3" y="456.5" font-family="Liberation Sans, Arial, Helvetica, sans-serif" font-size="19.8" fill="#000">bulk</text>
<text x="505.4" y="457.1" font-family="Liberation Serif, Times New Roman, serif" font-style="italic" font-size="20" fill="#000">λ</text>
<text x="514.4" y="462.4" font-family="Liberation Sans, Arial, Helvetica, sans-serif" font-size="14" fill="#000">1</text>
<text x="522.6" y="446.3" font-family="Liberation Sans, Arial, Helvetica, sans-serif" font-size="18.5" font-weight="bold" fill="#000">-</text>
<text x="534.9" y="456.5" font-family="Liberation Sans, Arial, Helvetica, sans-serif" font-size="19.9" fill="#000">= 0.9</text>
<text x="462.3" y="496.1" font-family="Liberation Sans, Arial, Helvetica, sans-serif" font-size="19.8" fill="#000">bulk</text>
<text x="505.4" y="496.70000000000005" font-family="Liberation Serif, Times New Roman, serif" font-style="italic" font-size="20" fill="#000">λ</text>
<text x="514.4" y="502.0" font-family="Liberation Sans, Arial, Helvetica, sans-serif" font-size="14" fill="#000">1</text>
<text x="522.6" y="485.90000000000003" font-family="Liberation Sans, Arial, Helvetica, sans-serif" font-size="18.5" font-weight="bold" fill="#000">-</text>
<text x="534.9" y="496.1" font-family="Liberation Sans, Arial, Helvetica, sans-serif" font-size="19.9" fill="#000">= 2</text>
<text x="78.7" y="81.3" font-family="Liberation Sans, Arial, Helvetica, sans-serif" font-size="19.6" font-weight="bold" text-anchor="end" fill="#000">1000</text>
<text x="78.7" y="397.8" font-family="Liberation Sans, Arial, Helvetica, sans-serif" font-size="19.6" font-weight="bold" text-anchor="end" fill="#000">100</text>
<text x="78.6" y="464.8" font-family="Liberation Sans, Arial, Helvetica, sans-serif" font-size="19.6" font-weight="bold" text-anchor="end" fill="#000">0.10</text>
<text x="78.6" y="536.6999999999999" font-family="Liberation Sans, Arial, Helvetica, sans-serif" font-size="19.6" font-weight="bold" text-anchor="end" fill="#000">0.08</text>
<text x="78.6" y="608.6" font-family="Liberation Sans, Arial, Helvetica, sans-serif" font-size="19.6" font-weight="bold" text-anchor="end" fill="#000">0.06</text>
<text x="78.6" y="680.5" font-family="Liberation Sans, Arial, Helvetica, sans-serif" font-size="19.6" font-weight="bold" text-anchor="end" fill="#000">0.04</text>
<text x="78.6" y="752.4" font-family="Liberation Sans, Arial, Helvetica, sans-serif" font-size="19.6" font-weight="bold" text-anchor="end" fill="#000">0.02</text>
<text x="89.05" y="839.2" font-family="Liberation Sans, Arial, Helvetica, sans-serif" font-size="19.6" font-weight="bold" text-anchor="middle" fill="#000">0.4</text>
<text x="276.39" y="839.2" font-family="Liberation Sans, Arial, Helvetica, sans-serif" font-size="19.6" font-weight="bold" text-anchor="middle" fill="#000">0.6</text>
<text x="463.7300000000001" y="839.2" font-family="Liberation Sans, Arial, Helvetica, sans-serif" font-size="19.6" font-weight="bold" text-anchor="middle" fill="#000">0.8</text>
<text x="651.8699999999999" y="839.2" font-family="Liberation Sans, Arial, Helvetica, sans-serif" font-size="19.6" font-weight="bold" text-anchor="middle" fill="#000">1.0</text>
<text x="355.6" y="867.8" font-family="Liberation Sans, Arial, Helvetica, sans-serif" font-size="21.6" font-weight="bold" font-style="italic" letter-spacing="0.4" fill="#000">T/T</text>
<text x="387.6" y="872.8" font-family="Liberation Sans, Arial, Helvetica, sans-serif" font-size="13.5" font-weight="bold" fill="#000">c</text>
<g transform="translate(18.5,231.2) rotate(-90)"><text x="0" y="0" font-family="Liberation Serif, Times New Roman, serif" font-style="italic" font-size="19.5" fill="#000">τ</text><text x="14.1" y="0" font-family="Liberation Sans, Arial, Helvetica, sans-serif" font-size="20" font-weight="bold" fill="#000">[s]</text></g>
<g transform="translate(18.4,687) rotate(-90)"><text x="0" y="0" font-family="Liberation Serif, Times New Roman, serif" font-style="italic" font-size="21" fill="#000">κ</text><text x="11" y="5.4" font-family="Liberation Sans, Arial, Helvetica, sans-serif" font-size="13.5" font-weight="bold" fill="#000">EFF</text><text x="43.5" y="0" font-family="Liberation Sans, Arial, Helvetica, sans-serif" font-size="20" font-weight="bold" fill="#000">[Wm<tspan font-size="13.5" letter-spacing="0.6" dy="-9.5">−1</tspan><tspan dy="9.5">K</tspan><tspan font-size="13.5" letter-spacing="0.1" dy="-9.5">−1</tspan><tspan dy="9.5">]</tspan></text></g>
</svg></body></html>
